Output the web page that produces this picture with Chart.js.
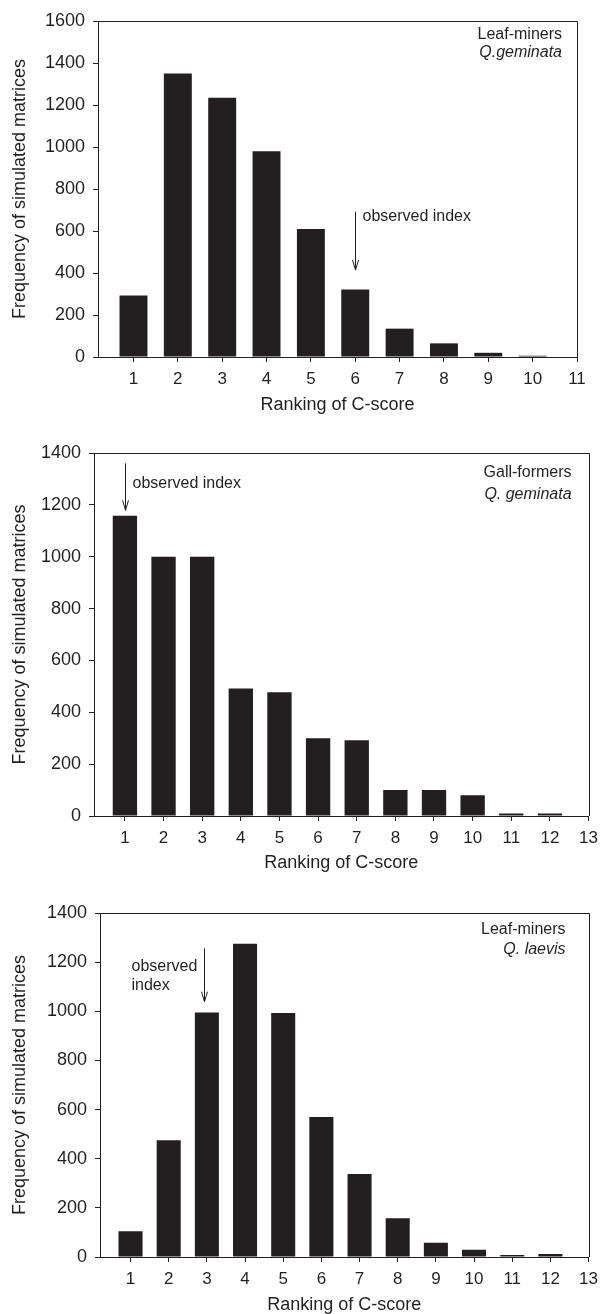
<!DOCTYPE html>
<html>
<head>
<meta charset="utf-8">
<script src="https://cdn.jsdelivr.net/npm/chart.js@4.4.0/dist/chart.umd.min.js"></script>
<style>
  html, body { margin: 0; padding: 0; background: #fff; overflow: hidden; }
  canvas { position: absolute; left: 0; }
</style>
</head>
<body>
<canvas id="chartA" width="605" height="420" style="top:0px"></canvas>
<canvas id="chartB" width="605" height="458" style="top:420px"></canvas>
<canvas id="chartC" width="605" height="439" style="top:875px"></canvas>
<script>
// データ
const ranksA = [1, 2, 3, 4, 5, 6, 7, 8, 9, 10];
const freqA = [293, 1350, 1235, 980, 610, 322, 135, 65, 20, 6];
const xTicksA = [1, 2, 3, 4, 5, 6, 7, 8, 9, 10, 11];
const yTicksA = [0, 200, 400, 600, 800, 1000, 1200, 1400, 1600];

const ranksB = [1, 2, 3, 4, 5, 6, 7, 8, 9, 10, 11, 12];
const freqB = [1158, 1000, 1000, 492, 477, 300, 292, 100, 100, 80, 10, 10];
const xTicksB = [1, 2, 3, 4, 5, 6, 7, 8, 9, 10, 11, 12, 13];
const yTicksB = [0, 200, 400, 600, 800, 1000, 1200, 1400];

const ranksC = [1, 2, 3, 4, 5, 6, 7, 8, 9, 10, 11, 12];
const freqC = [105, 475, 995, 1275, 993, 570, 338, 158, 58, 30, 8, 12];
const xTicksC = [1, 2, 3, 4, 5, 6, 7, 8, 9, 10, 11, 12, 13];
const yTicksC = [0, 200, 400, 600, 800, 1000, 1200, 1400];

const ink = '#231f20';
const family = '"Liberation Sans", Arial, sans-serif';

// 枠線・矢印・ラベルを描くプラグイン
const notesPlugin = {
  id: 'notes',
  afterDatasetsDraw(chart, args, opts) {
    const ctx = chart.ctx;
    const a = chart.chartArea;
    const sx = chart.scales.x, sy = chart.scales.y;
    ctx.save();
    ctx.strokeStyle = ink;
    ctx.lineWidth = 1;
    ctx.beginPath();
    ctx.moveTo(Math.round(a.left), Math.round(a.top) + 0.5);
    ctx.lineTo(Math.round(a.right) + 0.5, Math.round(a.top) + 0.5);
    ctx.lineTo(Math.round(a.right) + 0.5, Math.round(a.bottom));
    ctx.stroke();

    // 右上のラベル
    ctx.fillStyle = ink;
    ctx.textAlign = 'right';
    ctx.textBaseline = 'middle';
    ctx.font = '16px ' + family;
    ctx.fillText(opts.group, a.right - opts.labelRight, a.top + opts.labelY[0]);
    ctx.font = 'italic 16px ' + family;
    ctx.fillText(opts.species, a.right - opts.labelRight, a.top + opts.labelY[1]);

    // observed index の矢印
    const ax = Math.round(sx.getPixelForValue(opts.arrow.x)) + 0.5;
    const y1 = sy.getPixelForValue(opts.arrow.top);
    const y2 = sy.getPixelForValue(opts.arrow.bottom);
    ctx.beginPath();
    ctx.moveTo(ax, y1);
    ctx.lineTo(ax, y2);
    ctx.moveTo(ax - 3, y2 - 10);
    ctx.lineTo(ax, y2);
    ctx.lineTo(ax + 3, y2 - 10);
    ctx.stroke();

    ctx.font = '16px ' + family;
    ctx.textAlign = 'left';
    opts.text.forEach((line, i) => {
      ctx.fillText(line, ax + opts.textDx, y1 + opts.textDy[i]);
    });
    ctx.restore();
  }
};

function makeChart(id, ranks, freq, xTicks, yTicks, geo, notes) {
  const canvas = document.getElementById(id);
  const H = canvas.height;
  return new Chart(canvas.getContext('2d'), {
    type: 'bar',
    data: {
      datasets: [{
        data: ranks.map((r, i) => ({ x: r, y: freq[i] })),
        backgroundColor: ink,
        borderWidth: 0,
        barPercentage: 0.63,
        categoryPercentage: 1
      }]
    },
    options: {
      responsive: false,
      animation: false,
      layout: { padding: { top: geo.top, right: 605 - geo.right, left: 0, bottom: 0 } },
      plugins: { legend: { display: false }, tooltip: { enabled: false }, notes: notes },
      scales: {
        x: {
          type: 'linear',
          offset: false,
          min: 0.2,
          max: xTicks[xTicks.length - 1],
          afterBuildTicks: s => { s.ticks = xTicks.map(v => ({ value: v })); },
          afterFit: s => { s.height = H - geo.bottom; },
          grid: { offset: false, drawOnChartArea: false, tickLength: 5, color: ink, lineWidth: 1 },
          border: { color: ink, width: 1 },
          ticks: {
            color: ink, font: { family: family, size: 17 }, padding: 7,
            autoSkip: false, maxRotation: 0, callback: v => String(v)
          },
          title: {
            display: true, text: 'Ranking of C-score', color: ink,
            font: { family: family, size: 18, lineHeight: 1 },
            padding: { top: 0, bottom: geo.titlePad }
          }
        },
        y: {
          min: 0,
          max: yTicks[yTicks.length - 1],
          afterBuildTicks: s => { s.ticks = yTicks.map(v => ({ value: v })); },
          afterFit: s => { s.width = geo.left; },
          grid: { drawOnChartArea: false, tickLength: 5, color: ink, lineWidth: 1 },
          border: { color: ink, width: 1 },
          ticks: { color: ink, font: { family: family, size: 18 }, padding: 8, callback: v => String(v) },
          title: {
            display: true, text: 'Frequency of simulated matrices', color: ink,
            font: { family: family, size: 18 },
            padding: { top: 9, bottom: 0 }
          }
        }
      }
    },
    plugins: [notesPlugin]
  });
}

document.addEventListener('DOMContentLoaded', function() {
  makeChart('chartA', ranksA, freqA, xTicksA, yTicksA,
    { left: 98, right: 577, top: 21, bottom: 357, titlePad: 6 },
    { group: 'Leaf-miners', species: 'Q.geminata', labelRight: 15, labelY: [14, 32],
      arrow: { x: 6, top: 692, bottom: 414 }, text: ['observed index'], textDx: 7, textDy: [5] });

  makeChart('chartB', ranksB, freqB, xTicksB, yTicksB,
    { left: 94, right: 590, top: 33, bottom: 396, titlePad: 6 },
    { group: 'Gall-formers', species: 'Q. geminata', labelRight: 17, labelY: [20, 42],
      arrow: { x: 1, top: 1360, bottom: 1179 }, text: ['observed index'], textDx: 7, textDy: [20] });

  makeChart('chartC', ranksC, freqC, xTicksC, yTicksC,
    { left: 100, right: 595, top: 38, bottom: 382, titlePad: 0 },
    { group: 'Leaf-miners', species: 'Q. laevis', labelRight: 23, labelY: [17, 37],
      arrow: { x: 2.93, top: 1256, bottom: 1039 }, text: ['observed', 'index'], textDx: -73, textDy: [18, 37] });
});
</script>
</body>
</html>
